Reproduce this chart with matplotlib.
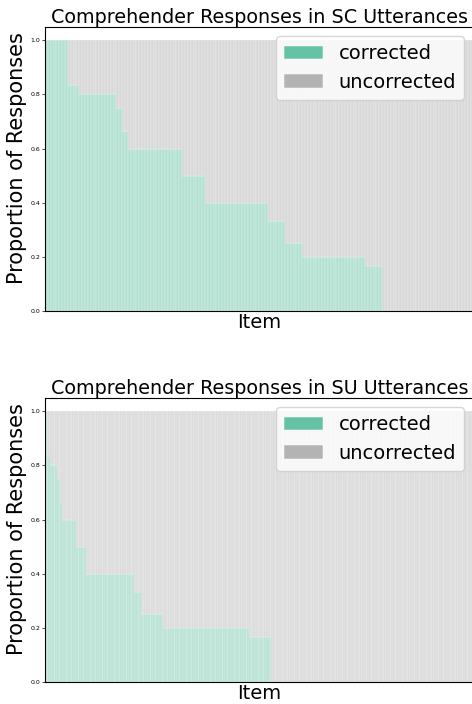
import numpy as np
import matplotlib.pyplot as plt

# proportion levels (sorted descending) and how many items sit at each level
levels = [1.0, 5/6, 0.8, 0.75, 2/3, 0.6, 0.5, 0.4, 1/3, 0.25, 0.2, 1/6, 0.0]
sc_counts = [8, 4, 13, 2, 2, 19, 8, 22, 6, 6, 22, 6, 32]
su_counts = [1, 2, 4, 2, 1, 8, 6, 28, 4, 13, 50, 13, 118]

green = '#66c2a5'
gray = '#b3b3b3'

fig = plt.figure(figsize=(4.72, 7.04), dpi=100)

panels = [
    ("Comprehender Responses in SC Utterances", sc_counts, [0.0953, 0.558, 0.908, 0.404]),
    ("Comprehender Responses in SU Utterances", su_counts, [0.0953, 0.031, 0.908, 0.404]),
]

for title, counts, rect in panels:
    ax = fig.add_axes(rect)
    corrected = np.repeat(levels, counts)
    uncorrected = 1 - corrected
    x = np.arange(len(corrected))
    ax.bar(x, corrected, width=1.0, color=green, alpha=0.5,
           edgecolor='white', linewidth=0.35, label='corrected')
    ax.bar(x, uncorrected, bottom=corrected, width=1.0, color=gray, alpha=0.5,
           edgecolor='white', linewidth=0.35, label='uncorrected')
    ax.set_xlim(-0.5, len(corrected) - 0.5)
    ax.set_ylim(0, 1.05)
    ax.set_xticks([])
    ax.set_yticks([0.0, 0.2, 0.4, 0.6, 0.8, 1.0])
    ax.tick_params(axis='y', labelsize=4.5, length=2, width=0.5, pad=1.5)
    ax.set_title(title, fontsize=13.8, pad=3)
    ax.set_xlabel("Item", fontsize=14, labelpad=1)
    ax.set_ylabel("Proportion of Responses", fontsize=15)
    ax.yaxis.set_label_coords(-0.042, 0.54)
    leg = ax.legend(loc='upper right', fontsize=14)
    for h in leg.legend_handles:
        h.set_alpha(1)

fig.savefig('out.png', dpi=100)
